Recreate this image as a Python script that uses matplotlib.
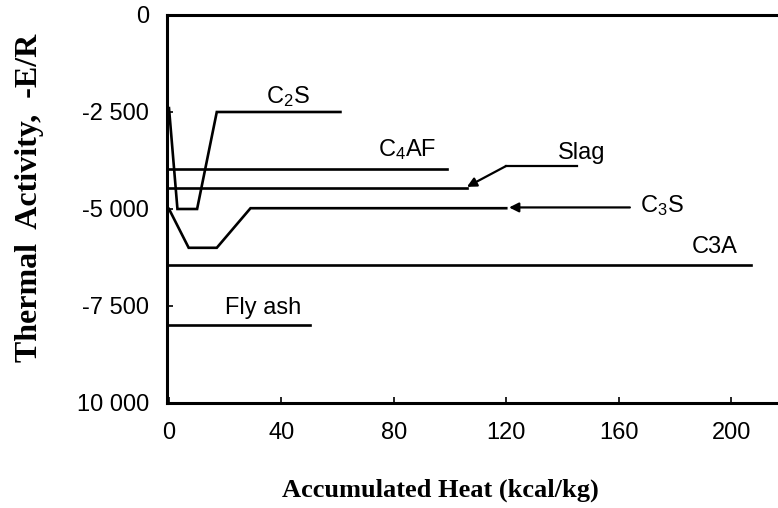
import matplotlib
matplotlib.use("Agg")
import matplotlib.pyplot as plt

plt.rcParams['font.family'] = ['Liberation Sans', 'DejaVu Sans']
plt.rcParams['mathtext.fontset'] = 'custom'
plt.rcParams['mathtext.rm'] = 'Liberation Sans'

# curves (accumulated heat, -E/R)
c2s_x = [0, 3, 10, 17, 61]
c2s_y = [-2400, -5000, -5000, -2500, -2500]
c4af_x = [0, 99]
c4af_y = [-3970, -3970]
slag_x = [0, 106]
slag_y = [-4460, -4460]
c3s_x = [0, 7, 17, 29, 120]
c3s_y = [-5000, -6000, -6000, -4980, -4980]
c3a_x = [0, 207]
c3a_y = [-6450, -6450]
flyash_x = [0, 50]
flyash_y = [-8000, -8000]

# leader lines from labels
slag_lead_x = [145, 120, 106]
slag_lead_y = [-3890, -3890, -4430]
c3s_lead_x = [164, 121]
c3s_lead_y = [-4960, -4960]

xticks = [0, 40, 80, 120, 160, 200]
yticks = [0, -2500, -5000, -7500, -10000]
yticklabels = ['0', '-2 500', '-5 000', '-7 500', '10 000']

fig = plt.figure(figsize=(7.78, 5.08), dpi=100)
ax = fig.add_axes([0.2147, 0.2067, 0.7853, 0.7638])

lw = 1.9
for xs, ys in [(c2s_x, c2s_y), (c4af_x, c4af_y), (slag_x, slag_y),
               (c3s_x, c3s_y), (c3a_x, c3a_y), (flyash_x, flyash_y)]:
    ax.plot(xs, ys, color='black', lw=lw, solid_joinstyle='miter')

ax.plot(slag_lead_x[:-1], slag_lead_y[:-1], color='black', lw=1.6)
ax.annotate('', xy=(slag_lead_x[-1], slag_lead_y[-1]),
            xytext=(slag_lead_x[-2], slag_lead_y[-2]),
            arrowprops=dict(arrowstyle='-|>', color='black', lw=1.6,
                            mutation_scale=14, shrinkA=0, shrinkB=0))
ax.annotate('', xy=(c3s_lead_x[1], c3s_lead_y[1]),
            xytext=(c3s_lead_x[0], c3s_lead_y[0]),
            arrowprops=dict(arrowstyle='-|>', color='black', lw=1.6,
                            mutation_scale=14, shrinkA=0, shrinkB=0))

lab_kw = dict(fontsize=17, va='center', ha='left', color='black')
ax.text(34.5, -2100, r'C$\mathregular{_2}$S', **lab_kw)
ax.text(74.5, -3480, r'C$\mathregular{_4}$AF', **lab_kw)
ax.text(138.5, -3550, 'Slag', **lab_kw)
ax.text(167.5, -4900, r'C$\mathregular{_3}$S', **lab_kw)
ax.text(186, -5980, 'C3A', **lab_kw)
ax.text(20, -7550, 'Fly ash', **lab_kw)

ax.set_xlim(-0.7, 216.7)
ax.set_ylim(-10000, 0)
ax.set_xticks(xticks)
ax.set_yticks(yticks)
ax.set_yticklabels(yticklabels)
ax.tick_params(direction='in', length=4, width=1.2, labelsize=17, pad=13)
ax.tick_params(axis='x', pad=14)

for s in ['left', 'top', 'bottom']:
    ax.spines[s].set_linewidth(2.2)
ax.spines['right'].set_visible(False)

fig.text(440 / 778, 1 - 490 / 508, 'Accumulated Heat (kcal/kg)', fontsize=19,
         fontweight='bold', family='Liberation Serif', ha='center', va='center')
fig.text(30 / 778, 1 - 198 / 508, 'Thermal  Activity,  -E/R', fontsize=23,
         fontweight='bold', family='Liberation Serif', rotation=90,
         ha='center', va='center')

fig.savefig('out.png', dpi=100)
